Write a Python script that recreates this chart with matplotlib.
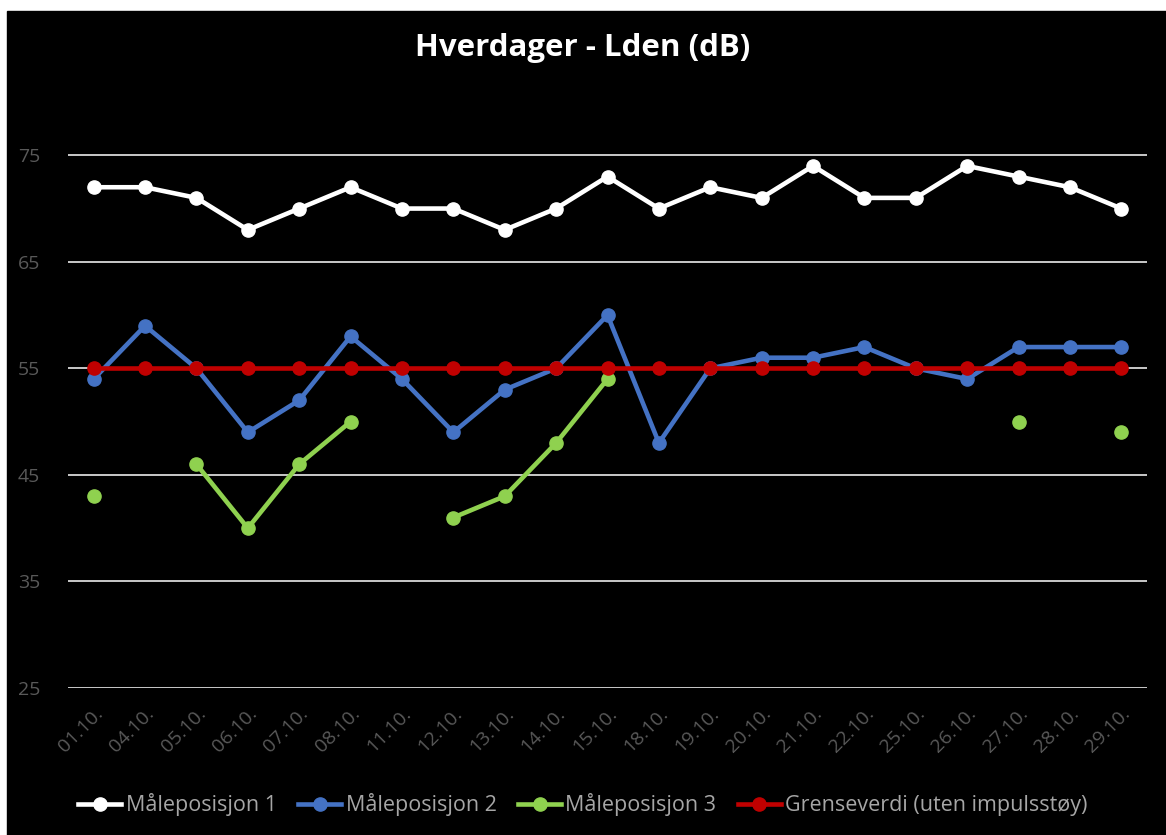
import matplotlib.pyplot as plt
import numpy as np

# data
dates = ['01.10.', '04.10.', '05.10.', '06.10.', '07.10.', '08.10.', '11.10.',
         '12.10.', '13.10.', '14.10.', '15.10.', '18.10.', '19.10.', '20.10.',
         '21.10.', '22.10.', '25.10.', '26.10.', '27.10.', '28.10.', '29.10.']
pos1 = [72, 72, 71, 68, 70, 72, 70, 70, 68, 70, 73, 70, 72, 71, 74, 71, 71, 74, 73, 72, 70]
pos2 = [54, 59, 55, 49, 52, 58, 54, 49, 53, 55, 60, 48, 55, 56, 56, 57, 55, 54, 57, 57, 57]
nan = np.nan
pos3 = [43, nan, 46, 40, 46, 50, nan, 41, 43, 48, 54, nan, nan, nan, nan, nan, nan, nan, 50, nan, 49]
limit = [55] * len(dates)

plt.rcParams['font.family'] = ['Open Sans', 'DejaVu Sans']

fig = plt.figure(figsize=(11.66, 8.35), dpi=100, facecolor='white')
# black chart area (small white margin at top/left like the screenshot)
fig.patches.append(plt.Rectangle((7 / 1166, 0), 1 - 7 / 1166, 1 - 11 / 835,
                                 transform=fig.transFigure, color='black', zorder=-10))

ax = fig.add_axes([68 / 1166, 1 - 688 / 835, (1147 - 68) / 1166, (688 - 102) / 835])
ax.set_facecolor('black')

x = np.arange(len(dates))
ax.plot(x, pos1, color='white', lw=3.3, marker='o', ms=9.5, label='Måleposisjon 1', zorder=5)
ax.plot(x, pos2, color='#4472c4', lw=3.3, marker='o', ms=9.5, label='Måleposisjon 2', zorder=4)
ax.plot(x, pos3, color='#8fd14f', lw=3.3, marker='o', ms=9.5, label='Måleposisjon 3', zorder=3)
ax.plot(x, limit, color='#c00000', lw=3.3, marker='o', ms=9.5,
        label='Grenseverdi (uten impulsstøy)', zorder=6)

ax.set_xlim(-0.5, len(dates) - 0.5)
ax.set_ylim(25, 80)
ax.set_yticks([25, 35, 45, 55, 65, 75])
ax.yaxis.grid(True, color='#d9d9d9', lw=1.3, zorder=1)
ax.set_axisbelow(True)
for s in ax.spines.values():
    s.set_visible(False)
ax.set_xticks(x)
ax.set_xticklabels(dates, rotation=45, ha='right', rotation_mode='anchor')
ax.tick_params(length=0, colors='#595959', labelsize=14)
ax.tick_params(axis='y', pad=20)
ax.tick_params(axis='x', pad=12)

fig.text(0.5, 1 - 48 / 835, 'Hverdager - Lden (dB)', color='white', fontsize=22.5,
         fontweight='bold', ha='center', va='center')

leg = fig.legend(loc='center', bbox_to_anchor=(0.5, 1 - 805 / 835), ncol=4,
                 frameon=False, fontsize=15.5, handlelength=2.0, handletextpad=0.2,
                 columnspacing=1.0)
for t in leg.get_texts():
    t.set_color('#a6a6a6')

plt.savefig('out.png', dpi=100, facecolor=fig.get_facecolor())
